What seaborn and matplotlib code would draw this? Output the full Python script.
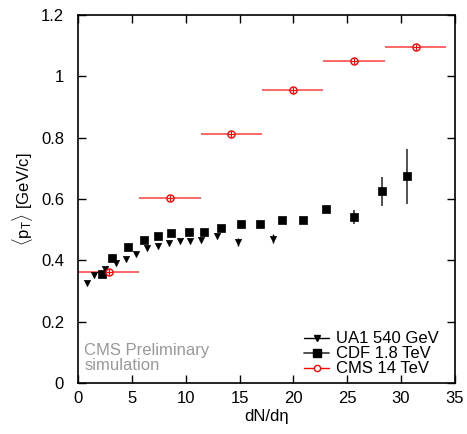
#!/usr/bin/env python3

import matplotlib
matplotlib.use("Agg")
import matplotlib.pyplot as plt
from matplotlib.lines import Line2D
import numpy as np
import pandas as pd
import seaborn as sns

# UA1 540 GeV
ua1_x = [0.81, 1.49, 2.5, 3.5, 4.46, 5.39, 6.44, 7.4, 8.45, 9.44, 10.43, 11.39, 12.88, 14.89, 18.1]
ua1_y = [0.326, 0.352, 0.372, 0.390, 0.405, 0.421, 0.440, 0.447, 0.455, 0.462, 0.463, 0.466, 0.479, 0.460, 0.471]
ua1_err = [0, 0, 0, 0, 0, 0, 0, 0, 0, 0, 0, 0, 0, 0.012, 0.015]

# CDF 1.8 TeV
cdf_x = [2.2, 3.13, 4.67, 6.16, 7.46, 8.66, 10.3, 11.73, 13.3, 15.16, 16.93, 18.97, 20.92, 23.05, 25.66, 28.25, 30.58]
cdf_y = [0.354, 0.409, 0.445, 0.465, 0.478, 0.488, 0.491, 0.491, 0.507, 0.517, 0.520, 0.530, 0.533, 0.566, 0.540, 0.625, 0.674]
cdf_err = [0, 0, 0, 0, 0, 0, 0, 0, 0, 0, 0, 0, 0, 0.010, 0.023, 0.048, 0.089]

# CMS 14 TeV (simulation), bins of width 5.7
cms_x = [2.85, 8.55, 14.25, 19.95, 25.65, 31.35]
cms_y = [0.363, 0.602, 0.811, 0.954, 1.050, 1.097]
cms_xerr = [2.85, 2.85, 2.85, 2.85, 2.85, 2.85]

sns.set_style("ticks")
plt.rcParams['font.family'] = ['Liberation Sans', 'DejaVu Sans']
plt.rcParams['mathtext.fontset'] = 'custom'
plt.rcParams['mathtext.rm'] = 'Liberation Sans'
plt.rcParams['mathtext.it'] = 'Liberation Sans'
plt.rcParams['text.color'] = 'black'
plt.rcParams['axes.labelcolor'] = 'black'
plt.rcParams['xtick.color'] = 'black'
plt.rcParams['ytick.color'] = 'black'

FS = 12

fig, ax = plt.subplots(figsize=(4.67, 4.34), dpi=100)
fig.subplots_adjust(left=0.167, right=0.974, bottom=0.1175, top=0.9654)

# CMS horizontal bars
ax.errorbar(cms_x, cms_y, xerr=cms_xerr, fmt='none', ecolor='#ff3333',
            elinewidth=1.3, alpha=0.8, zorder=2)
# vertical error bars
ax.errorbar(cdf_x, cdf_y, yerr=cdf_err, fmt='none', ecolor='#444444',
            elinewidth=1.3, zorder=2)
ax.errorbar(ua1_x, ua1_y, yerr=ua1_err, fmt='none', ecolor='black',
            elinewidth=1.0, zorder=2)

ua1 = pd.DataFrame({'x': ua1_x, 'y': ua1_y})
cdf = pd.DataFrame({'x': cdf_x, 'y': cdf_y})
cms = pd.DataFrame({'x': cms_x, 'y': cms_y})

sns.scatterplot(data=ua1, x='x', y='y', marker='v', s=20, color='black',
                edgecolor='black', linewidth=0.5, ax=ax, zorder=3)
sns.scatterplot(data=cdf, x='x', y='y', marker='s', s=40, color='black',
                edgecolor='black', linewidth=0.5, ax=ax, zorder=3)
sns.scatterplot(data=cms, x='x', y='y', marker='o', s=26, facecolor='white',
                edgecolor='red', linewidth=1.0, ax=ax, zorder=4)
sns.scatterplot(data=cms, x='x', y='y', marker='+', s=14, color='red',
                linewidth=0.8, ax=ax, zorder=5)

ax.set_xlim(0, 35)
ax.set_ylim(0, 1.2)
ax.set_xticks(np.arange(0, 36, 5))
ax.set_yticks(np.arange(0, 1.21, 0.2))
ax.set_yticklabels(['0', '0.2', '0.4', '0.6', '0.8', '1', '1.2'])
ax.tick_params(axis='both', which='both', direction='in', length=6, width=1,
               top=True, right=True, labelsize=FS, colors='black')
ax.tick_params(axis='x', pad=6)
ax.tick_params(axis='y', pad=10)
for spine in ax.spines.values():
    spine.set_visible(True)
    spine.set_linewidth(1.2)
    spine.set_color('black')

ax.set_xlabel('dN/dη', fontsize=FS, labelpad=2)
ax.set_ylabel(r'$\langle$p$_{\rm T}\rangle$ [GeV/c]', fontsize=FS, labelpad=4)

ax.text(0.6, 0.033, 'CMS Preliminary\nsimulation', color='#999999',
        fontsize=FS, ha='left', va='bottom', linespacing=1.0)

handles = [
    Line2D([0], [0], color='black', lw=1, marker='v', markersize=4),
    Line2D([0], [0], color='#444444', lw=1.3, marker='s', markersize=6,
           markerfacecolor='black', markeredgecolor='black'),
    Line2D([0], [0], color='red', lw=1, marker='o', markersize=4.5,
           markerfacecolor='white', markeredgecolor='red'),
]
ax.legend(handles, ['UA1 540 GeV', 'CDF 1.8 TeV', 'CMS 14 TeV'],
          loc='lower right', bbox_to_anchor=(0.975, 0.0), frameon=False,
          fontsize=FS, handlelength=1.5, handletextpad=0.4,
          labelspacing=0.0, borderaxespad=0.0)

fig.savefig('out.png', dpi=100)
